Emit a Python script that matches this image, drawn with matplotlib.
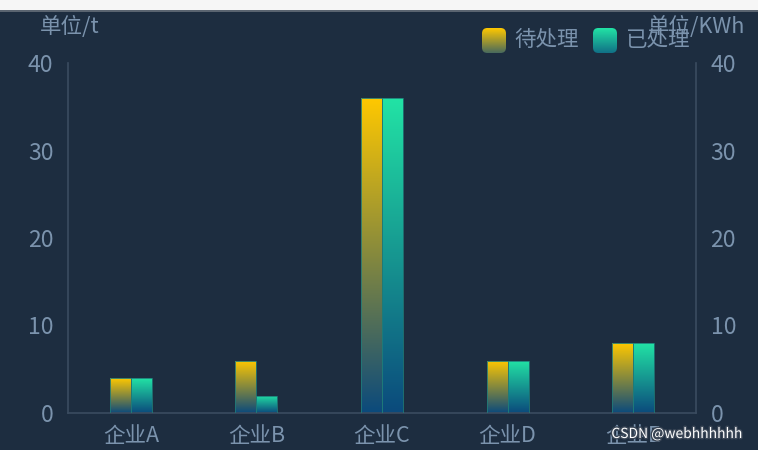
import numpy as np
import matplotlib
matplotlib.use("Agg")
import matplotlib.pyplot as plt
from matplotlib.colors import LinearSegmentedColormap
from matplotlib.patches import FancyBboxPatch, Rectangle
import matplotlib.patheffects as pe

plt.rcParams['font.family'] = ['Noto Sans CJK SC', 'DejaVu Sans']

categories = ['企业A', '企业B', '企业C', '企业D', '企业E']
pending = [4, 6, 36, 6, 8]
done = [4, 2, 36, 6, 8]
series_names = ['待处理', '已处理']

bg = '#1d2d40'
txt = '#7b93ad'
line = '#3b4c60'
bottom_col = '#0b4a7c'
yellow_map = LinearSegmentedColormap.from_list('y', [bottom_col, '#ffc800'])
teal_map = LinearSegmentedColormap.from_list('t', [bottom_col, '#22e3a5'])
grad = np.linspace(0, 1, 256).reshape(-1, 1)

W, H = 758, 450
fig = plt.figure(figsize=(W / 100, H / 100), dpi=100, facecolor=bg)

# light strip on top
fig.patches.append(Rectangle((0, 1 - 10 / H), 1, 10 / H, transform=fig.transFigure,
                             facecolor='#f6f6f6', edgecolor='none'))
fig.patches.append(Rectangle((0, 1 - 12 / H), 1, 2 / H, transform=fig.transFigure,
                             facecolor='#5a6470', edgecolor='none'))

ax = fig.add_axes([68 / W, 37 / H, 628 / W, 350 / H])
ax.set_facecolor(bg)

x = np.arange(len(categories))
bw = 0.167
b1 = ax.bar(x - bw / 2, pending, bw, color='none', edgecolor='none')
b2 = ax.bar(x + bw / 2, done, bw, color='none', edgecolor='none')

for bars, cmap in [(b1, yellow_map), (b2, teal_map)]:
    for p in bars:
        x0, w, h = p.get_x(), p.get_width(), p.get_height()
        im = ax.imshow(grad, extent=[x0, x0 + w, 0, h], origin='lower',
                       cmap=cmap, aspect='auto', zorder=2)
        im.set_clip_path(p)
        ax.add_patch(Rectangle((x0, 0), w, h, facecolor='none',
                               edgecolor='#1f7a78', linewidth=0.6, zorder=3))

ax.set_xlim(-0.5, len(categories) - 0.5)
ax.set_ylim(0, 40)
ax.set_yticks([0, 10, 20, 30, 40])
ax.set_xticks(x)
ax.set_xticklabels(categories)
ax.tick_params(axis='y', left=False, right=False, labelleft=True, labelright=True,
               labelsize=16.5, labelcolor=txt, pad=7)
ax.tick_params(axis='x', bottom=False, labelsize=15.5, labelcolor=txt, pad=5)

for s in ['left', 'right', 'bottom']:
    ax.spines[s].set_color(line)
    ax.spines[s].set_linewidth(1.2)
ax.spines['top'].set_visible(False)

# axis unit names
fig.text(40 / W, 1 - 27 / H, '单位/t', color=txt, fontsize=15.5, ha='left', va='center')
fig.text(745 / W, 1 - 27 / H, '单位/KWh', color=txt, fontsize=15.5, ha='right', va='center')

# legend
for i, (name, cmap) in enumerate(zip(series_names, [yellow_map, teal_map])):
    lx = 482 + i * 111
    iax = fig.add_axes([lx / W, 1 - 53 / H, 24 / W, 25 / H])
    iax.axis('off')
    iax.set_xlim(0, 1)
    iax.set_ylim(0, 1)
    box = FancyBboxPatch((0, 0), 1, 1, boxstyle='round,pad=0,rounding_size=0.22',
                         transform=iax.transAxes, facecolor='none', edgecolor='none')
    iax.add_patch(box)
    im = iax.imshow(grad * 0.75 + 0.25, extent=[0, 1, 0, 1], origin='lower', cmap=cmap,
                    vmin=0, vmax=1, aspect='auto')
    im.set_clip_path(box)
    fig.text((lx + 32) / W, 1 - 40 / H, name, color=txt, fontsize=15.5, ha='left', va='center')

# watermark
fig.text(742 / W, 1 - 434 / H, 'CSDN @webhhhhhh', color='white', fontsize=10,
         ha='right', va='center',
         path_effects=[pe.withStroke(linewidth=2, foreground='#3a4656')])

fig.savefig('out.png', dpi=100, facecolor=bg)
